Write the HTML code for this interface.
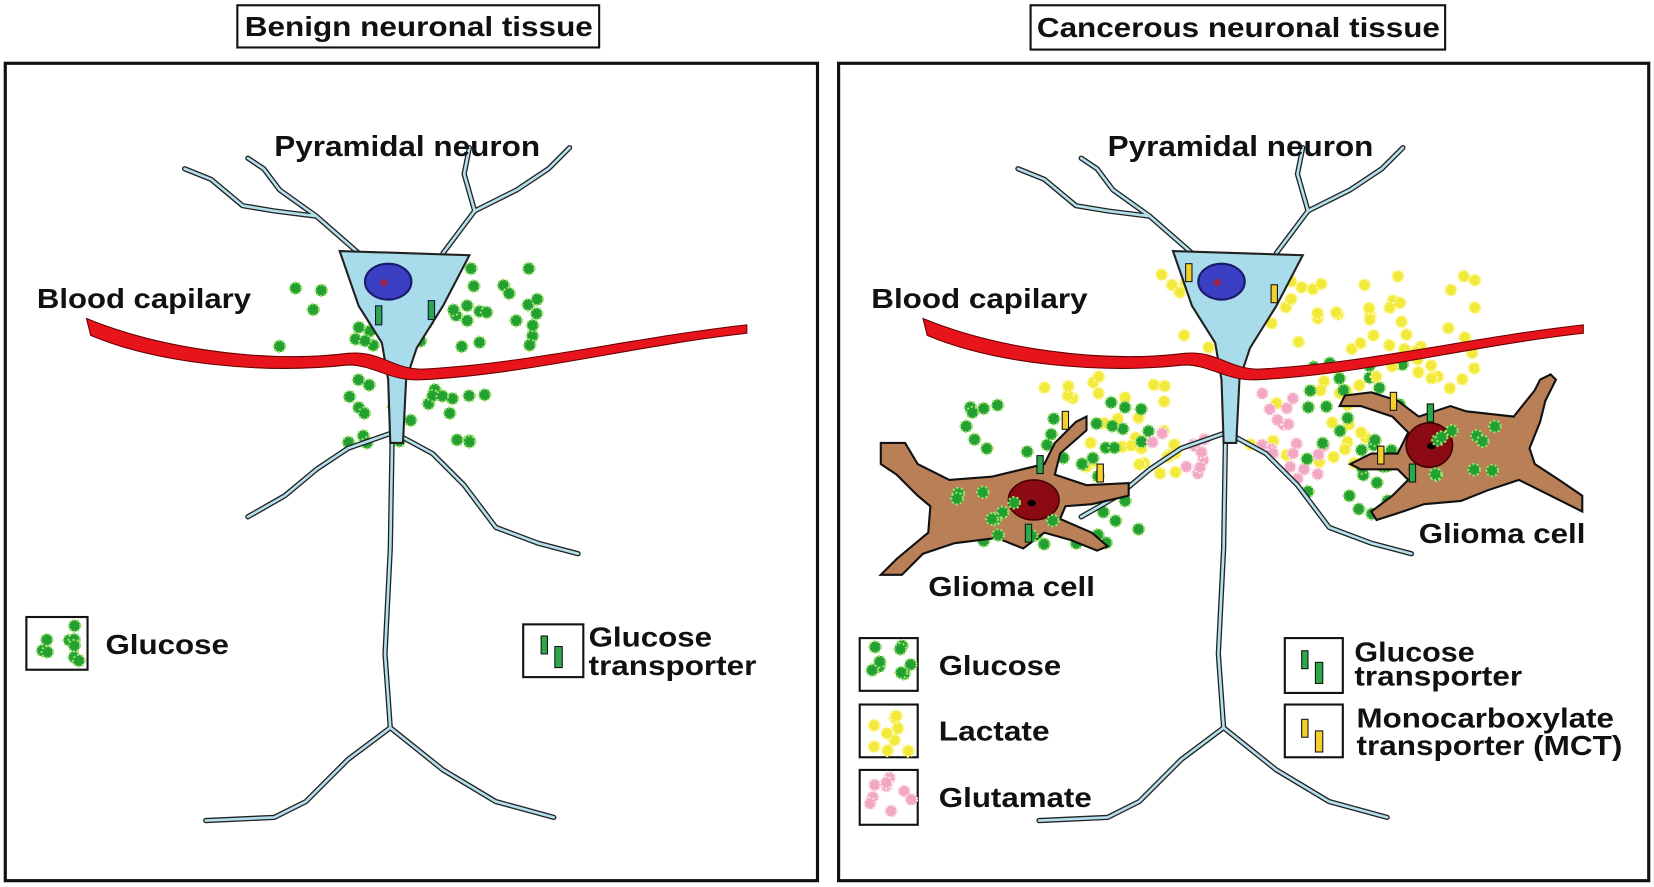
<!DOCTYPE html>
<html><head><meta charset="utf-8"><style>
html,body{margin:0;padding:0;background:#fff;}
svg{display:block}
text{font-family:"Liberation Sans",Arial,sans-serif;font-weight:bold;fill:#111}
</style></head><body>
<svg id="s" width="1654" height="887" viewBox="0 0 1568 841" preserveAspectRatio="none" xmlns="http://www.w3.org/2000/svg">
<defs>
<g id="neuron">
  <g fill="none" stroke-linejoin="round" stroke-linecap="round">
    <g stroke="#222" stroke-width="5">
      <polyline points="340,240 300,205 265,180 250,160 235,150"/>
      <polyline points="300,205 260,200 230,195 200,170 175,160"/>
      <polyline points="420,240 450,200 440,165 445,140"/>
      <polyline points="450,200 490,180 520,160 540,140"/>
      <polyline points="375,335 372,400 370,520 365,620 370,690"/>
      <polyline points="370,690 330,720 290,760 260,775 195,778"/>
      <polyline points="370,690 420,730 470,760 525,775"/>
      <polyline points="373,410 330,425 300,445 270,470 235,490"/>
      <polyline points="373,410 410,430 440,460 470,500 510,515 548,525"/>
    </g>
    <g stroke="#b4e0ec" stroke-width="2.5">
      <polyline points="340,240 300,205 265,180 250,160 235,150"/>
      <polyline points="300,205 260,200 230,195 200,170 175,160"/>
      <polyline points="420,240 450,200 440,165 445,140"/>
      <polyline points="450,200 490,180 520,160 540,140"/>
      <polyline points="375,335 372,400 370,520 365,620 370,690"/>
      <polyline points="370,690 330,720 290,760 260,775 195,778"/>
      <polyline points="370,690 420,730 470,760 525,775"/>
      <polyline points="373,410 330,425 300,445 270,470 235,490"/>
      <polyline points="373,410 410,430 440,460 470,500 510,515 548,525"/>
    </g>
  </g>
  <path d="M322,238 L445,242 L420,290 L395,330 L385,360 L382,420 L370,420 L368,360 L362,325 L340,290 Z" fill="#a9dcea" stroke="#222" stroke-width="2"/>
  <ellipse cx="368" cy="267" rx="22" ry="17" fill="#3a3fc4" stroke="#1a1a6a" stroke-width="2"/>
  <circle cx="364" cy="268" r="3.5" fill="#a0204a"/>
</g>
<g id="cap">
  <path d="M82,302 C150,330 250,345 330,335 C360,332 372,350 400,350 C500,345 600,320 708,308 L708,316 C600,328 500,355 400,360 C370,362 355,346 330,346 C250,355 150,345 86,318 Z" fill="#e8141c" stroke="#600" stroke-width="1"/>
</g>
</defs>

<!-- Left panel -->
<rect x="5" y="60" width="770" height="775" fill="none" stroke="#111" stroke-width="3"/>
<rect x="225" y="5" width="343" height="40" fill="#fff" stroke="#111" stroke-width="2"/>
<text x="232" y="34" font-size="26" textLength="330" lengthAdjust="spacingAndGlyphs">Benign neuronal tissue</text>
<g id="ldots"></g>
<use href="#neuron"/>
<use href="#cap"/>
<rect x="356" y="290" width="6" height="18" fill="#2aa84a" stroke="#114"/>
<rect x="406" y="285" width="6" height="18" fill="#2aa84a" stroke="#114"/>
<text x="260" y="148" font-size="27" textLength="252" lengthAdjust="spacingAndGlyphs">Pyramidal neuron</text>
<text x="35" y="292" font-size="26" textLength="203" lengthAdjust="spacingAndGlyphs">Blood capilary</text>
<rect x="25" y="585" width="58" height="50" fill="#fff" stroke="#111" stroke-width="2"/>
<g id="lg1"></g>
<text x="100" y="620" font-size="26" textLength="117" lengthAdjust="spacingAndGlyphs">Glucose</text>
<rect x="496" y="592" width="57" height="50" fill="#fff" stroke="#111" stroke-width="2"/>
<rect x="513" y="603" width="6" height="17" fill="#2aa84a" stroke="#111"/>
<rect x="526" y="613" width="7" height="20" fill="#2aa84a" stroke="#111"/>
<text x="558" y="613" font-size="26" textLength="117" lengthAdjust="spacingAndGlyphs">Glucose</text>
<text x="558" y="640" font-size="26" textLength="159" lengthAdjust="spacingAndGlyphs">transporter</text>

<!-- Right panel -->
<rect x="795" y="60" width="768" height="775" fill="none" stroke="#111" stroke-width="3"/>
<rect x="977" y="5" width="393" height="42" fill="#fff" stroke="#111" stroke-width="2"/>
<text x="983" y="35" font-size="26" textLength="382" lengthAdjust="spacingAndGlyphs">Cancerous neuronal tissue</text>
<g id="rdots"></g>
<use href="#neuron" transform="translate(790,0)"/>
<use href="#cap" transform="translate(793,0)"/>
<path d="M835,420 L858,420 L870,440 L900,455 L940,452 L990,440 L1000,420 L1020,400 L1030,395 L1030,408 L1005,430 L1000,450 L1030,460 L1070,458 L1070,470 L1035,478 L1010,480 L1005,492 L1035,505 L1050,518 L1040,522 L1015,512 L990,505 L970,520 L945,510 L905,515 L875,525 L855,545 L835,545 L850,530 L880,505 L882,480 L870,470 L850,450 L835,440 Z" fill="#b98057" stroke="#111" stroke-width="2"/>
<ellipse cx="980" cy="474" rx="24" ry="19" fill="#8b0a14" stroke="#400" stroke-width="1.5"/>
<ellipse cx="978" cy="477" rx="4" ry="3" fill="#000"/>
<path d="M1275,375 L1300,372 L1325,380 L1345,395 L1375,385 L1390,390 L1435,395 L1455,370 L1460,360 L1470,355 L1475,360 L1465,380 L1460,400 L1450,425 L1455,440 L1478,455 L1500,470 L1500,485 L1470,470 L1440,455 L1410,465 L1385,475 L1350,478 L1330,485 L1305,493 L1300,485 L1320,470 L1335,455 L1325,445 L1290,445 L1280,440 L1300,430 L1325,430 L1335,410 L1320,395 L1290,385 L1270,385 Z" fill="#b98057" stroke="#111" stroke-width="2"/>
<ellipse cx="1355" cy="422" rx="22" ry="21" fill="#8b0a14" stroke="#400" stroke-width="1.5"/>
<ellipse cx="1357" cy="423" rx="4" ry="3" fill="#000"/>
<g id="rdots2"></g>
<g stroke="#111" stroke-width="1">
<rect x="1124" y="250" width="6" height="17" fill="#f6d02a"/>
<rect x="1205" y="270" width="6" height="17" fill="#f6d02a"/>
<rect x="1007" y="390" width="6" height="17" fill="#f6d02a"/>
<rect x="1040" y="440" width="6" height="17" fill="#f6d02a"/>
<rect x="983" y="432" width="6" height="17" fill="#2aa84a"/>
<rect x="972" y="497" width="6" height="17" fill="#2aa84a"/>
<rect x="1318" y="372" width="6" height="17" fill="#f6d02a"/>
<rect x="1353" y="383" width="6" height="17" fill="#2aa84a"/>
<rect x="1306" y="423" width="6" height="17" fill="#f6d02a"/>
<rect x="1336" y="440" width="6" height="17" fill="#2aa84a"/>
</g>
<text x="1050" y="148" font-size="27" textLength="252" lengthAdjust="spacingAndGlyphs">Pyramidal neuron</text>
<text x="826" y="292" font-size="26" textLength="205" lengthAdjust="spacingAndGlyphs">Blood capilary</text>
<text x="880" y="565" font-size="26" textLength="158" lengthAdjust="spacingAndGlyphs">Glioma cell</text>
<text x="1345" y="515" font-size="26" textLength="158" lengthAdjust="spacingAndGlyphs">Glioma cell</text>
<rect x="815" y="605" width="55" height="50" fill="#fff" stroke="#111" stroke-width="2"/>
<rect x="815" y="668" width="55" height="50" fill="#fff" stroke="#111" stroke-width="2"/>
<rect x="815" y="730" width="55" height="52" fill="#fff" stroke="#111" stroke-width="2"/>
<g id="lg2"></g>
<text x="890" y="640" font-size="26" textLength="116" lengthAdjust="spacingAndGlyphs">Glucose</text>
<text x="890" y="702" font-size="26" textLength="105" lengthAdjust="spacingAndGlyphs">Lactate</text>
<text x="890" y="765" font-size="26" textLength="145" lengthAdjust="spacingAndGlyphs">Glutamate</text>
<rect x="1218" y="605" width="55" height="52" fill="#fff" stroke="#111" stroke-width="2"/>
<rect x="1218" y="668" width="55" height="50" fill="#fff" stroke="#111" stroke-width="2"/>
<rect x="1234" y="617" width="6" height="17" fill="#2aa84a" stroke="#111"/>
<rect x="1247" y="628" width="7" height="20" fill="#2aa84a" stroke="#111"/>
<rect x="1234" y="682" width="6" height="17" fill="#f6d02a" stroke="#111"/>
<rect x="1247" y="693" width="7" height="20" fill="#f6d02a" stroke="#111"/>
<text x="1284" y="627" font-size="26" textLength="114" lengthAdjust="spacingAndGlyphs">Glucose</text>
<text x="1284" y="650" font-size="26" textLength="159" lengthAdjust="spacingAndGlyphs">transporter</text>
<text x="1286" y="690" font-size="26" textLength="244" lengthAdjust="spacingAndGlyphs">Monocarboxylate</text>
<text x="1286" y="716" font-size="26" textLength="252" lengthAdjust="spacingAndGlyphs">transporter (MCT)</text>
</svg>
<script>
(function(){
var ns="http://www.w3.org/2000/svg";var seed=7;
function r(){seed=(seed*16807)%2147483647;return seed/2147483647;}
var C={g:["#22a032","#9be06a"],y:["#f2ea3a","#fff7a0"],p:["#f2a8c4","#fde0ea"]};
function dot(g,x,y,t){var c=document.createElementNS(ns,"circle");c.setAttribute("cx",x);c.setAttribute("cy",y);c.setAttribute("r",5.5);c.setAttribute("fill",C[t][0]);c.setAttribute("stroke",C[t][1]);c.setAttribute("stroke-width","2");c.setAttribute("stroke-dasharray","2 2");g.appendChild(c);}
function fill(id,x0,y0,x1,y1,n,t){var g=document.getElementById(id);for(var i=0;i<n;i++){dot(g,x0+r()*(x1-x0),y0+r()*(y1-y0),t);}}
fill("ldots",265,250,525,335,38,"g");
fill("ldots",330,360,460,425,22,"g");
fill("ldots",335,245,435,330,10,"g");
fill("lg1",35,592,75,628,9,"g");
fill("rdots",1100,260,1400,335,55,"y");
fill("rdots",990,355,1120,450,30,"y");
fill("rdots",1180,360,1300,460,20,"y");
fill("rdots",910,380,1090,520,45,"g");
fill("rdots",1090,410,1150,450,10,"p");
fill("rdots",1180,360,1260,470,18,"p");
fill("rdots",1230,340,1330,490,30,"g");
fill("rdots",1300,340,1400,370,10,"y");
fill("rdots2",900,445,1000,520,12,"g");
fill("rdots2",1360,400,1420,460,10,"g");
fill("lg2",822,612,864,650,9,"g");
fill("lg2",822,675,864,712,9,"y");
fill("lg2",822,737,864,776,9,"p");
})();
</script>
</body></html>
